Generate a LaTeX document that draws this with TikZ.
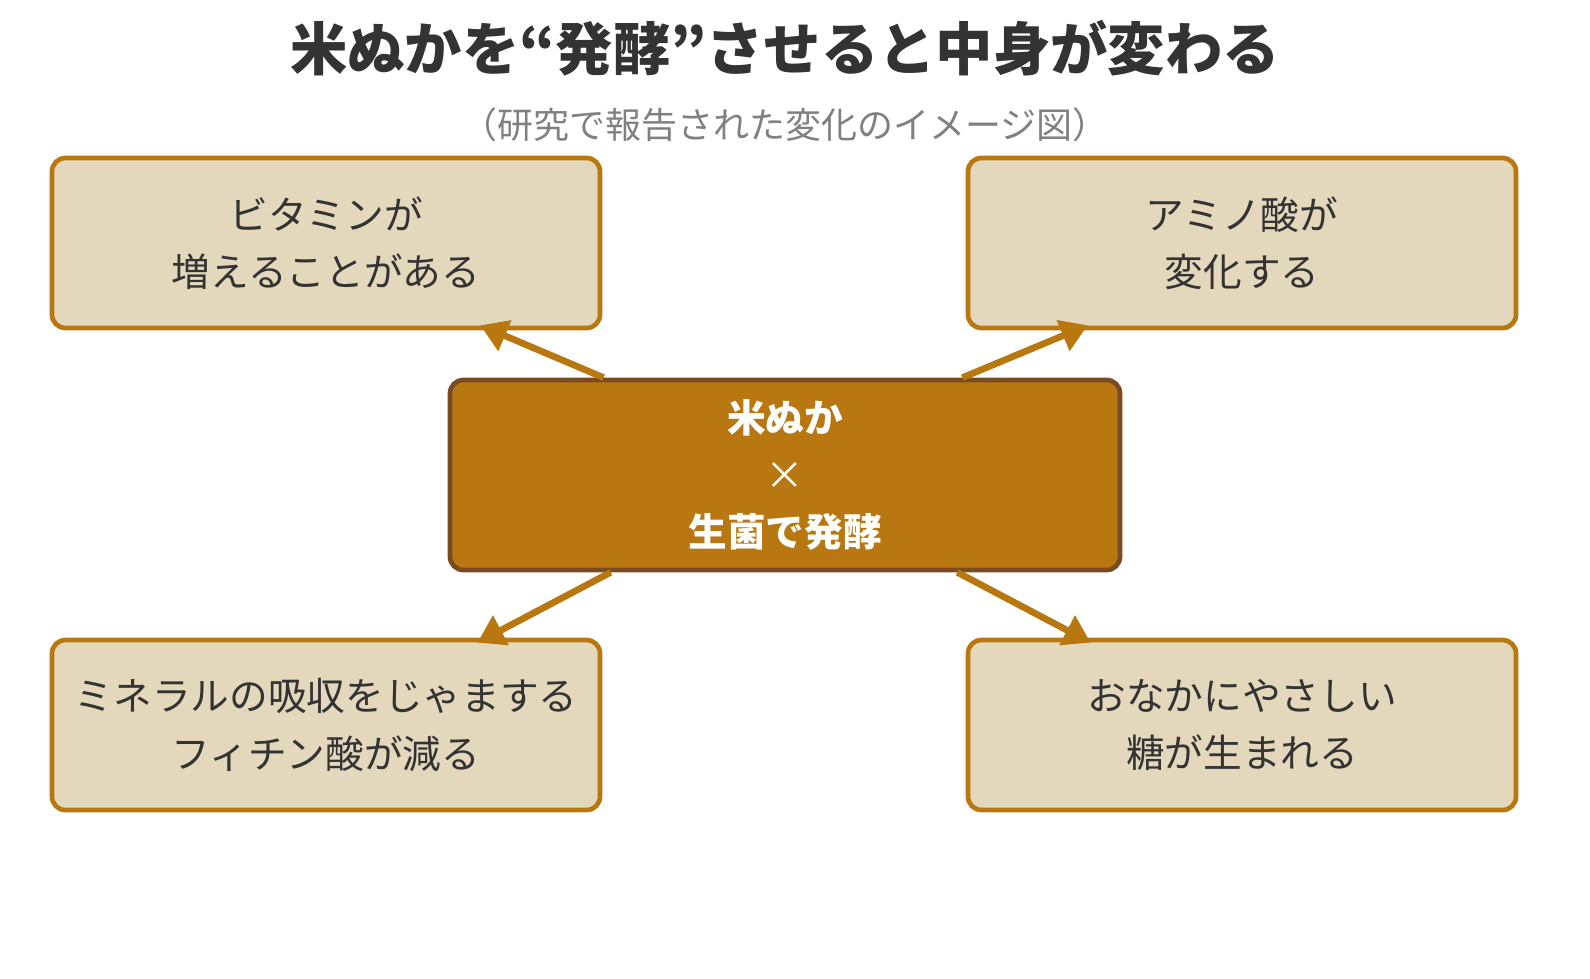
\documentclass[tikz,border=0pt]{standalone}
\usepackage{fontspec}
\setmainfont{Noto Sans CJK JP}
\usetikzlibrary{arrows.meta, positioning, calc}
\definecolor{edge}{HTML}{B8770F}
\definecolor{paper}{HTML}{E3D7BC}
\definecolor{core}{HTML}{B87711}
\definecolor{coreline}{HTML}{7A4A20}
\definecolor{ink}{HTML}{333333}
\tikzset{
    factnode/.style = {draw=edge, fill=paper, line width=3.5pt, rounded corners=1em,
      minimum width=548*0.75pt, minimum height=170*0.75pt, align=center,
      font=\fontsize{29}{43}\selectfont, text=ink},
    corenode/.style = {draw=coreline, fill=core, line width=3.5pt, rounded corners=1em,
      minimum width=670*0.75pt, minimum height=190*0.75pt, align=center,
      font=\fontsize{29}{43}\selectfont\bfseries, text=white},
    connect/.style = {edge, line width=5pt, -{Triangle[length=20pt,width=24pt]}}
}
\begin{document}
\begin{tikzpicture}[x=0.75pt, y=-0.75pt]
\useasboundingbox (0,0) rectangle (1590,978);
\node [font=\fontsize{43}{48}\selectfont\bfseries, text=ink, name=title] at (785,48) {米ぬかを“発酵”させると中身が変わる};
\node [font=\fontsize{27}{30}\selectfont, text=gray, name=sub] at (785,125) {（研究で報告された変化のイメージ図）};

\node [corenode, name=core] at (785,475) {米ぬか\\{\normalfont ×}\\生菌で発酵};
\node [factnode, name=vit] at (326,243) {ビタミンが\\増えることがある};
\node [factnode, name=amino] at (1242,243) {アミノ酸が\\変化する};
\node [factnode, name=phytin] at (326,725) {ミネラルの吸収をじゃまする\\フィチン酸が減る};
\node [factnode, name=sugar] at (1242,725) {おなかにやさしい\\糖が生まれる};

\draw [connect] ($(core.north west)+(156,0)$) -- ($(vit.south east)+(-122,-5)$);
\draw [connect] ($(core.north east)+(-160,0)$) -- ($(amino.south west)+(122,-5)$);
\draw [connect] ($(core.south west)+(163,0)$) -- ($(phytin.north east)+(-125,5)$);
\draw [connect] ($(core.south east)+(-165,0)$) -- ($(sugar.north west)+(125,5)$);
\end{tikzpicture}
\end{document}
